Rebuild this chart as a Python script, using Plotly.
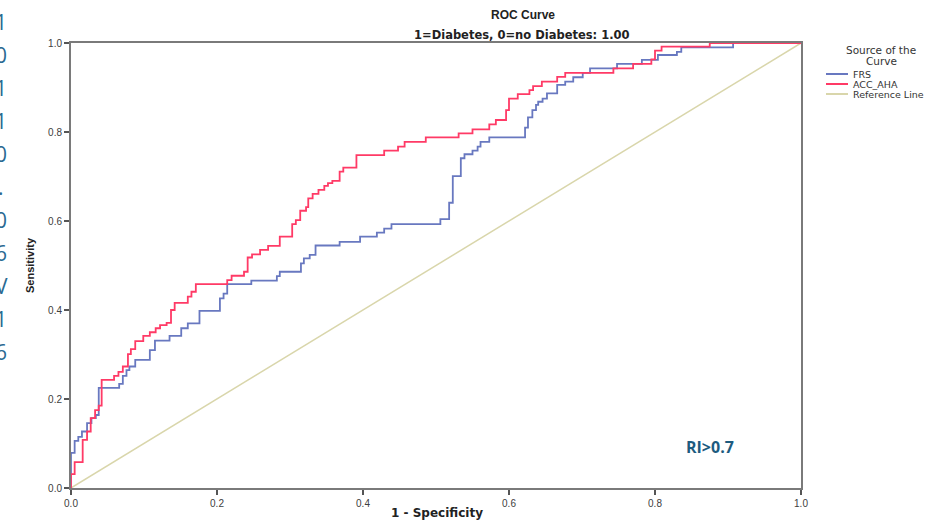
import plotly.graph_objects as go

# ---- data ----
frs_x = [0.0, 0.0, 0.005, 0.010, 0.015, 0.022, 0.028, 0.034, 0.038, 0.066, 0.071, 0.076, 0.080,
         0.088, 0.108, 0.115, 0.135, 0.151, 0.160, 0.176, 0.204, 0.209, 0.214, 0.247, 0.282, 0.286,
         0.315, 0.319, 0.327, 0.335, 0.368, 0.396, 0.419, 0.429, 0.439, 0.506, 0.518, 0.523, 0.534,
         0.539, 0.550, 0.557, 0.561, 0.573, 0.622, 0.626, 0.632, 0.637, 0.640, 0.646, 0.652, 0.666,
         0.677, 0.688, 0.701, 0.711, 0.748, 0.782, 0.804, 0.830, 0.836, 0.907, 1.0]
frs_y = [0.0, 0.079, 0.106, 0.115, 0.127, 0.146, 0.157, 0.164, 0.225, 0.234, 0.252, 0.265, 0.273,
         0.288, 0.310, 0.331, 0.342, 0.359, 0.370, 0.398, 0.426, 0.437, 0.458, 0.466, 0.476, 0.486,
         0.505, 0.516, 0.524, 0.545, 0.553, 0.565, 0.574, 0.583, 0.593, 0.604, 0.641, 0.701, 0.741,
         0.750, 0.758, 0.767, 0.778, 0.788, 0.810, 0.833, 0.849, 0.861, 0.868, 0.875, 0.887, 0.906,
         0.913, 0.923, 0.933, 0.943, 0.953, 0.962, 0.973, 0.980, 0.990, 1.0, 1.0]

acc_x = [0.0, 0.0, 0.005, 0.016, 0.022, 0.027, 0.033, 0.038, 0.042, 0.059, 0.065, 0.071, 0.078,
         0.082, 0.088, 0.099, 0.108, 0.116, 0.122, 0.131, 0.137, 0.142, 0.160, 0.165, 0.171, 0.214,
         0.220, 0.237, 0.242, 0.248, 0.259, 0.270, 0.286, 0.303, 0.308, 0.314, 0.322, 0.325, 0.331,
         0.339, 0.347, 0.352, 0.358, 0.368, 0.373, 0.391, 0.429, 0.448, 0.457, 0.486, 0.531, 0.550,
         0.573, 0.582, 0.596, 0.600, 0.612, 0.628, 0.633, 0.645, 0.666, 0.677, 0.743, 0.770, 0.795,
         0.800, 0.809, 0.875, 1.0]
acc_y = [0.0, 0.031, 0.058, 0.108, 0.127, 0.157, 0.175, 0.185, 0.243, 0.252, 0.261, 0.273, 0.301,
         0.312, 0.330, 0.342, 0.350, 0.359, 0.366, 0.371, 0.400, 0.416, 0.430, 0.441, 0.458, 0.467,
         0.477, 0.486, 0.518, 0.525, 0.535, 0.544, 0.565, 0.593, 0.602, 0.623, 0.631, 0.651, 0.661,
         0.670, 0.679, 0.685, 0.690, 0.711, 0.720, 0.748, 0.758, 0.767, 0.778, 0.788, 0.797, 0.806,
         0.817, 0.827, 0.849, 0.875, 0.885, 0.894, 0.903, 0.913, 0.924, 0.933, 0.943, 0.953, 0.963,
         0.983, 0.992, 1.0, 1.0]

ref_x = [0.0, 1.0]
ref_y = [0.0, 1.0]

tick_vals = [0.0, 0.2, 0.4, 0.6, 0.8, 1.0]
tick_text = ["0.0", "0.2", "0.4", "0.6", "0.8", "1.0"]

legend_title = ["Source of the", "Curve"]
legend_names = ["FRS", "ACC_AHA", "Reference Line"]
colors = ["#6878c0", "#ff3a66", "#d9d6ab"]

side_chars = ["1", "0", "1", "1", "0", ".", "0", "6", "V", "1", "6"]

FONT = "Liberation Sans, Arial, sans-serif"
WIDE = "DejaVu Sans, sans-serif"

fig = go.Figure()
fig.add_trace(go.Scatter(x=ref_x, y=ref_y, mode="lines", line=dict(color=colors[2], width=1.5),
                         name=legend_names[2], showlegend=False))
fig.add_trace(go.Scatter(x=frs_x, y=frs_y, mode="lines", line=dict(color=colors[0], width=1.8, shape="hv"),
                         name=legend_names[0], showlegend=False))
fig.add_trace(go.Scatter(x=acc_x, y=acc_y, mode="lines", line=dict(color=colors[1], width=1.8, shape="hv"),
                         name=legend_names[1], showlegend=False))

L, R, T, B = 71, 126, 43, 32
W, H = 927, 520
pw, ph = W - L - R, H - T - B


def px(xp):
    return (xp - L) / pw


def py(yp):
    return (H - B - yp) / ph


axis_common = dict(range=[0, 1], tickvals=tick_vals, ticktext=tick_text, ticks="outside", ticklen=5,
                   tickcolor="#555555", tickwidth=1.5, showgrid=False, zeroline=False,
                   showline=True, linecolor="#7a7a7a", linewidth=2, mirror=True,
                   tickfont=dict(family=FONT, size=10, color="#404040"))
fig.update_xaxes(**axis_common)
fig.update_yaxes(**axis_common)


def note(text, x, y, size, color="#222222", xanchor="center", angle=0, family=FONT):
    return dict(text=text, x=px(x), y=py(y), xref="paper", yref="paper", xanchor=xanchor,
                yanchor="middle", textangle=angle, showarrow=False,
                font=dict(family=family, size=size, color=color))


ann = [
    note("<b>ROC Curve</b>", 523, 15, 12),
    note("<b>1=Diabetes, 0=no Diabetes: 1.00</b>", 522, 35, 11.5, family=WIDE),
    note("<b>1 - Specificity</b>", 437, 513, 12, family=WIDE),
    note("<b>Sensitivity</b>", 30, 265, 11, angle=-90),
    note("<b>RI>0.7</b>", 710, 447, 16, color="#1d5b7f", family="Open Sans, sans-serif"),
    note(legend_title[0], 881, 50, 10.5, color="#333333", family=WIDE),
    note(legend_title[1], 881, 61, 10.5, color="#333333", family=WIDE),
]

shapes = []
for i, name in enumerate(legend_names):
    yy = 74 + 10 * i
    shapes.append(dict(type="line", xref="paper", yref="paper", x0=px(826), x1=px(848),
                       y0=py(yy), y1=py(yy), line=dict(color=colors[i], width=2)))
    ann.append(note(name, 851, yy, 9.5, color="#333333", xanchor="left", family=WIDE))

for i, ch in enumerate(side_chars):
    ann.append(note(ch, 1, 22 + 33 * i, 21, color="#2a6a92", family="Open Sans, sans-serif"))

fig.update_layout(width=W, height=H, margin=dict(l=L, r=R, t=T, b=B), plot_bgcolor="white",
                  paper_bgcolor="white", showlegend=False, annotations=ann, shapes=shapes)

fig.write_html("out.html", config={"displayModeBar": False},
               post_script="document.body.style.margin='0px';")
